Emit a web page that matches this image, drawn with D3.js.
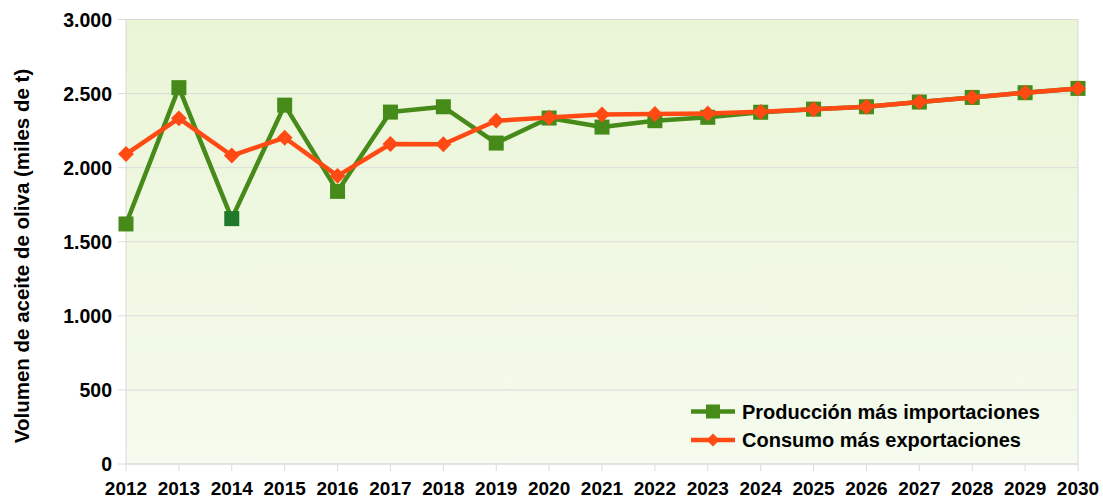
<!DOCTYPE html>
<html><head><meta charset="utf-8">
<script src="https://cdn.jsdelivr.net/npm/d3@7"></script>
<style>body{margin:0;background:#fff;} text{font-family:"Liberation Sans",Arial,sans-serif;font-weight:bold;fill:#000;}</style>
</head><body>
<svg id="c" width="1103" height="499"></svg>
<script>
const years = [2012,2013,2014,2015,2016,2017,2018,2019,2020,2021,2022,2023,2024,2025,2026,2027,2028,2029,2030];
const produccion = [1620,2540,1656,2422,1840,2375,2411,2166,2335,2274,2317,2340,2374,2395,2411,2443,2474,2506,2535];
const consumo = [2092,2333,2082,2202,1945,2160,2158,2317,2338,2359,2362,2366,2377,2394,2411,2443,2474,2506,2535];
const yTicks = [0,500,1000,1500,2000,2500,3000];
const seriesNames = ["Producción más importaciones","Consumo más exportaciones"];

const svg = d3.select("#c");
const m = {l:126, r:1078, t:19.5, b:464};
const x = d3.scalePoint().domain(years).range([m.l, m.r]);
const y = d3.scaleLinear().domain([0,3000]).range([m.b, m.t]);

const defs = svg.append("defs");
const g = defs.append("linearGradient").attr("id","bg").attr("x1",0).attr("y1",0).attr("x2",0).attr("y2",1);
g.append("stop").attr("offset","0%").attr("stop-color","#eaf5d6");
g.append("stop").attr("offset","100%").attr("stop-color","#f5fbee");

svg.append("rect").attr("x",m.l).attr("y",m.t).attr("width",m.r-m.l).attr("height",m.b-m.t)
  .attr("fill","url(#bg)").attr("stroke","#d9d9d9").attr("stroke-width",1);

// grid
svg.append("g").selectAll("line").data(yTicks).join("line")
  .attr("x1",m.l-8).attr("x2",m.r).attr("y1",d=>y(d)).attr("y2",d=>y(d))
  .attr("stroke","#dcdcdc").attr("stroke-width",1);

// y axis labels
svg.append("g").selectAll("text").data(yTicks).join("text")
  .attr("x",112).attr("y",d=>y(d)).attr("dy","0.36em").attr("text-anchor","end")
  .attr("font-size",19.5).text(d=>d3.format(",")(d).replace(/,/g,"."));

// x ticks
svg.append("g").selectAll("line").data(years).join("line")
  .attr("x1",d=>x(d)).attr("x2",d=>x(d)).attr("y1",m.b).attr("y2",m.b+7)
  .attr("stroke","#dcdcdc");
svg.append("g").selectAll("text").data(years).join("text")
  .attr("x",d=>x(d)).attr("y",495).attr("text-anchor","middle")
  .attr("font-size",19).text(d=>d);

// y label
svg.append("text").attr("transform","translate(29,256) rotate(-90)").attr("text-anchor","middle")
  .attr("font-size",20.5).text("Volumen de aceite de oliva (miles de t)");

const line = d3.line().x((d,i)=>x(years[i])).y(d=>y(d));
const green = "#468a1a", orange = "#ff4a14";

svg.append("path").datum(produccion).attr("d",line).attr("fill","none").attr("stroke",green).attr("stroke-width",4.5).attr("stroke-linejoin","round");
svg.append("g").selectAll("rect").data(produccion).join("rect")
  .attr("x",(d,i)=>x(years[i])-7.5).attr("y",d=>y(d)-7.5).attr("width",15).attr("height",15)
  .attr("fill",(d,i)=>years[i]===2014?"#1e7a2a":green);

svg.append("path").datum(consumo).attr("d",line).attr("fill","none").attr("stroke",orange).attr("stroke-width",4.5).attr("stroke-linejoin","round");
const diamond = d3.symbol().type(d3.symbolDiamond2).size(160);
svg.append("g").selectAll("path").data(consumo).join("path")
  .attr("transform",(d,i)=>`translate(${x(years[i])},${y(d)})`)
  .attr("d",diamond).attr("fill",orange);

// legend
const lg = svg.append("g");
const ly = [411.5, 440];
lg.append("line").attr("x1",691).attr("x2",735).attr("y1",ly[0]).attr("y2",ly[0]).attr("stroke",green).attr("stroke-width",4.5);
lg.append("rect").attr("x",706).attr("y",ly[0]-7).attr("width",14).attr("height",14).attr("fill",green);
lg.append("line").attr("x1",691).attr("x2",735).attr("y1",ly[1]).attr("y2",ly[1]).attr("stroke",orange).attr("stroke-width",4.5);
lg.append("path").attr("transform",`translate(713,${ly[1]})`).attr("d",d3.symbol().type(d3.symbolDiamond2).size(110)).attr("fill",orange);
lg.selectAll("text").data(seriesNames).join("text")
  .attr("x",742).attr("y",(d,i)=>ly[i]).attr("dy","0.36em").attr("font-size",20).text(d=>d);
</script>
</body></html>
